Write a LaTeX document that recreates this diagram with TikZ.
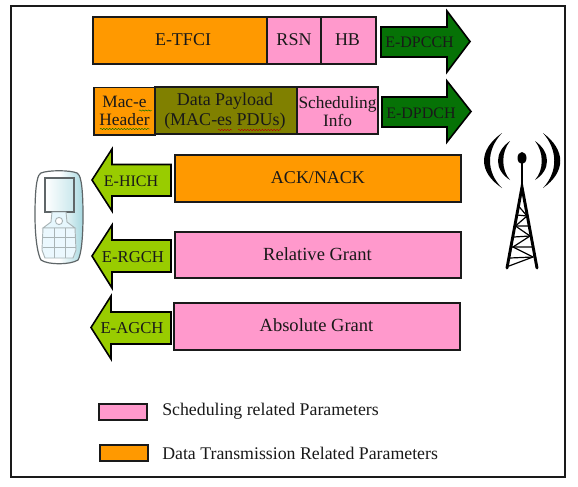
\documentclass[tikz,border=0pt]{standalone}
\usepackage{fontspec}
\setmainfont{Liberation Serif}
\usetikzlibrary{decorations.pathmorphing}
\definecolor{cOrange}{HTML}{FF9900}
\definecolor{cPink}{HTML}{FF99CC}
\definecolor{cOlive}{HTML}{808000}
\definecolor{cDark}{HTML}{067206}
\definecolor{cLime}{HTML}{99CC00}
\definecolor{cInk}{HTML}{1A1A1A}
\definecolor{cPhone}{HTML}{5F6668}
\definecolor{cKey}{HTML}{A9B4B6}
\definecolor{cPhoneSide}{HTML}{A6D8E0}
\tikzset{
  box/.style={draw=cInk,line width=1.2pt},
  arrowshape/.style={draw=black,line width=1.2pt,line join=miter},
  lbl/.style={inner sep=0pt,align=center,text=black!90},
  big/.style={lbl,font=\fontsize{13.5}{15}\selectfont},
  grant/.style={lbl,font=\fontsize{13.9}{15}\selectfont},
  mid/.style={lbl,font=\fontsize{13}{14}\selectfont},
  small/.style={lbl,font=\fontsize{12}{14}\selectfont},
  smallb/.style={lbl,font=\fontsize{12.5}{14}\selectfont},
  legendtext/.style={lbl,anchor=west,font=\fontsize{13.35}{15}\selectfont},
  squig/.style={line width=0.35pt,decorate,decoration={snake,amplitude=0.45pt,segment length=2.2pt}},
  keyline/.style={draw=cKey,line width=0.7pt},
  crescent/.style={fill=black,draw=none},
  towerleg/.style={draw=black,line width=2.2pt,line cap=round},
  brace/.style={draw=black,line width=0.9pt}
}
\begin{document}
\begin{tikzpicture}[x=0.75pt,y=-0.75pt]
\useasboundingbox (0,0) rectangle (578,486);
\fill[white] (0,0) rectangle (578,486);
% frame
\draw[draw=cInk,line width=1.5pt] (11,6) rectangle (565,477);
% row 1
\path[box,fill=cOrange] (93,17) rectangle (267,64);
\path[box,fill=cPink] (267,17) rectangle (321,64);
\path[box,fill=cPink] (321,17) rectangle (376,64);
\node[big] (etfci) at (183,40) {E-TFCI};
\node[big] (rsn) at (294,39.5) {RSN};
\node[big] (hb) at (347.5,39.5) {HB};
\path[arrowshape,fill=cDark] (381,27) -- (447,27) -- (447,11) -- (470,41.5) -- (447,72) -- (447,57) -- (381,57) -- cycle;
\node[small] (dpcch) at (419.5,42.5) {E-DPCCH};
% row 2
\path[box,fill=cOrange] (94,87.5) rectangle (155,135);
\path[box,fill=cOlive] (155,87) rectangle (297,134);
\path[box,fill=cPink] (297,87) rectangle (378,134);
\node[mid] (mac) at (124.5,111) {Mac-e\\Header};
\node[big] (payload) at (225,111.5) {Data Payload\\(MAC-es PDUs)};
\node[mid] (sched) at (337.5,111.5) {Scheduling\\Info};
\draw[squig,draw=green!45!black] (139,110.5) -- (152,110.5);
\draw[squig,draw=green!45!black] (100,129) -- (150,129);
\draw[squig,draw=red!70!black] (218,130) -- (232,130);
\draw[squig,draw=red!70!black] (238,130) -- (281,130);
\path[arrowshape,fill=cDark] (382,97) -- (447,97) -- (447,81) -- (471,111.5) -- (447,142) -- (447,127) -- (382,127) -- cycle;
\node[small] (dpdch) at (421,113.5) {E-DPDCH};
% downlink
\path[box,fill=cOrange] (175,155) rectangle (461,202);
\node[big] (ack) at (318,178) {ACK/NACK};
\path[box,fill=cPink] (175,232) rectangle (461,278);
\node[grant] (rg) at (317.5,254.5) {Relative Grant};
\path[box,fill=cPink] (174,303) rectangle (460,350);
\node[grant] (ag) at (316.5,325.5) {Absolute Grant};
\path[arrowshape,fill=cLime] (171,164.5) -- (112,164.5) -- (112,149) -- (92,180) -- (112,211) -- (112,196) -- (171,196) -- cycle;
\node[small] (hich) at (131,181) {E-HICH};
\path[arrowshape,fill=cLime] (171,240) -- (112,240) -- (112,225) -- (92,256) -- (112,288) -- (112,272) -- (171,272) -- cycle;
\node[smallb] (rgch) at (133,257) {E-RGCH};
\path[arrowshape,fill=cLime] (171,312) -- (111,312) -- (111,296) -- (91,327.5) -- (111,359) -- (111,344) -- (171,344) -- cycle;
\node[smallb] (agch) at (132,328) {E-AGCH};
% legend
\path[box,fill=cPink] (99,404) rectangle (147,420);
\path[box,fill=cOrange] (100,445) rectangle (148,461);
\node[legendtext] (leg1) at (162,411.5) {Scheduling related Parameters};
\node[legendtext] (leg2) at (162,453.5) {Data Transmission Related Parameters};
% phone
\path[draw=cPhone,line width=0.9pt,left color=white,right color=cPhoneSide,middle color=white]
  (41,173) .. controls (48,170) and (70,170) .. (77,173)
  .. controls (80,174) and (83,182) .. (83,215)
  .. controls (83,240) and (81,255) .. (78,260)
  .. controls (70,265) and (48,265) .. (41,260)
  .. controls (38,255) and (35,240) .. (35,215)
  .. controls (35,182) and (38,174) .. (41,173) -- cycle;
\path[draw=cPhone,line width=0.8pt,left color=white,right color=cPhoneSide!60!white] (45,178) rectangle (74,212);
\path[keyline,fill=white!90!cyan] (52,212) -- (51,222) -- (43,228) -- (75,228) -- (67,222) -- (66,212) -- cycle;
\path[keyline,fill=white] (59,221) circle (3.6);
\path[keyline,fill=white!92!cyan] (43,228) -- (75,228) -- (76,250) -- (73,258) -- (45,258) -- (42,250) -- cycle;
\draw[keyline] (42.5,237.5) -- (75.5,237.5) (42.5,247.5) -- (75.5,247.5) (54,228) -- (54,258) (65,228) -- (65,258);
% tower
\path[crescent] (502,133) .. controls (478,150) and (478,172) .. (502,188) .. controls (486,172) and (486,150) .. (502,133) -- cycle;
\path[crescent] (510,141) .. controls (494,152) and (494,170) .. (510,180) .. controls (501,170) and (501,152) .. (510,141) -- cycle;
\path[crescent] (543,133) .. controls (566,150) and (566,172) .. (543,188) .. controls (558,172) and (558,150) .. (543,133) -- cycle;
\path[crescent] (535,141) .. controls (551,152) and (551,170) .. (535,180) .. controls (544,170) and (544,152) .. (535,141) -- cycle;
\fill[black] (522,158) ellipse (4.5 and 6);
\draw[draw=black,line width=1.3pt] (522,160) -- (522,188);
\draw[towerleg] (507,268) -- (522,187) -- (537,268);
\draw[brace] (518.5,206) -- (527,216) -- (515.5,226) -- (530,236) -- (513,247) -- (533,257) -- (509,266);
\draw[brace] (517,215) -- (527,216) (515.5,226) -- (529,226) (514,237) -- (530,236) (512,247) -- (533,247) (510,258) -- (533,257);
\end{tikzpicture}
\end{document}
